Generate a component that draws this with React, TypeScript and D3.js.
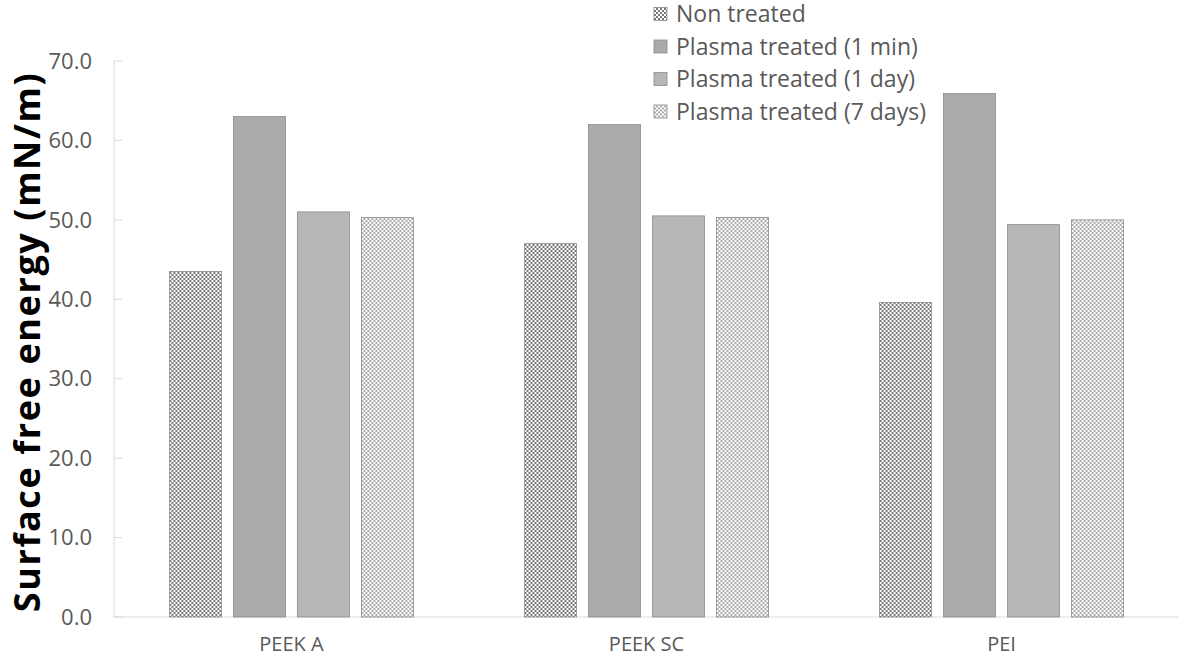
import React from "react";
import * as d3 from "d3";

const categories = ["PEEK A", "PEEK SC", "PEI"];
const seriesNames = [
  "Non treated",
  "Plasma treated (1 min)",
  "Plasma treated (1 day)",
  "Plasma treated (7 days)",
];
const nonTreated = [43.5, 47.0, 39.6];
const plasma1min = [63.0, 62.0, 65.9];
const plasma1day = [51.0, 50.5, 49.4];
const plasma7days = [50.3, 50.3, 50.0];
const yTicks = [0, 10, 20, 30, 40, 50, 60, 70];

const seriesValues = [nonTreated, plasma1min, plasma1day, plasma7days];
const fills = ["url(#pNon)", "url(#p1min)", "#b7b7b7", "url(#p7d)"];

const W = 1181;
const H = 657;
const left = 114;
const right = 1179;
const top = 61;
const bottom = 617;
const font = "'Open Sans', 'Noto Sans', sans-serif";

export default function App() {
  const y = d3.scaleLinear().domain([0, 70]).range([bottom, top]);
  const x0 = d3
    .scaleBand<string>()
    .domain(categories)
    .range([left, right])
    .paddingInner(0.3127)
    .paddingOuter(0.156);
  const x1 = d3
    .scaleBand<string>()
    .domain(seriesNames)
    .range([0, x0.bandwidth()])
    .paddingInner(0.1875);

  const legendX = 654;
  const legendY0 = 14;
  const legendStep = 32.5;

  return (
    <svg
      width={W}
      height={H}
      style={{ position: "absolute", left: 0, top: 0, background: "#fff" }}
    >
      <defs>
        <pattern id="pNon" width={4} height={4} patternUnits="userSpaceOnUse">
          <rect width={4} height={4} fill="#ffffff" />
          <rect x={0} y={0} width={2} height={2} fill="#777777" />
          <rect x={2} y={2} width={2} height={2} fill="#777777" />
        </pattern>
        <pattern id="p1min" width={2} height={2} patternUnits="userSpaceOnUse">
          <rect width={2} height={2} fill="#c8c8c8" />
          <rect x={0} y={0} width={1} height={1} fill="#8e8e8e" />
          <rect x={1} y={1} width={1} height={1} fill="#8e8e8e" />
        </pattern>
        <pattern id="p7d" width={4} height={4} patternUnits="userSpaceOnUse">
          <rect width={4} height={4} fill="#ffffff" />
          <rect x={0} y={0} width={2} height={2} fill="#acacac" />
          <rect x={2} y={2} width={2} height={2} fill="#acacac" />
        </pattern>
      </defs>

      {/* axes */}
      <line x1={left} x2={left} y1={top} y2={bottom} stroke="#d9d9d9" strokeWidth={1} />
      <line x1={left} x2={right} y1={bottom} y2={bottom} stroke="#d9d9d9" strokeWidth={1} />
      {yTicks.map((t) => (
        <g key={t}>
          <line x1={left} x2={left + 8} y1={y(t)} y2={y(t)} stroke="#d9d9d9" strokeWidth={1} />
          <text
            x={92}
            y={y(t)}
            dy="0.35em"
            textAnchor="end"
            fontFamily={font}
            fontSize={22}
            fill="#595959"
          >
            {t.toFixed(1)}
          </text>
        </g>
      ))}

      {/* bars */}
      {categories.map((c, ci) => (
        <g key={c} transform={`translate(${x0(c)},0)`}>
          {seriesNames.map((s, si) => {
            const v = seriesValues[si][ci];
            return (
              <rect
                key={s}
                x={x1(s)}
                y={y(v)}
                width={x1.bandwidth()}
                height={y(0) - y(v)}
                fill={fills[si]}
                stroke="#8c8c8c"
                strokeWidth={0.8}
              />
            );
          })}
        </g>
      ))}

      {/* category labels */}
      {categories.map((c) => (
        <text
          key={c}
          x={(x0(c) as number) + x0.bandwidth() / 2}
          y={651}
          textAnchor="middle"
          fontFamily={font}
          fontSize={20}
          fill="#595959"
        >
          {c}
        </text>
      ))}

      {/* y title */}
      <text
        transform={`translate(40,342) rotate(-90)`}
        textAnchor="middle"
        fontFamily={font}
        fontWeight="bold"
        fontSize={36}
        letterSpacing={1.6}
        fill="#000"
      >
        Surface free energy (mN/m)
      </text>

      {/* legend */}
      {seriesNames.map((s, i) => (
        <g key={s} transform={`translate(${legendX},${legendY0 + i * legendStep})`}>
          <rect x={0} y={-6.5} width={13} height={13} fill={fills[i]} stroke="#8c8c8c" strokeWidth={0.8} />
          <text
            x={22}
            y={0}
            dy="0.35em"
            fontFamily={font}
            fontSize={23}
            fill="#595959"
          >
            {s}
          </text>
        </g>
      ))}
    </svg>
  );
}
